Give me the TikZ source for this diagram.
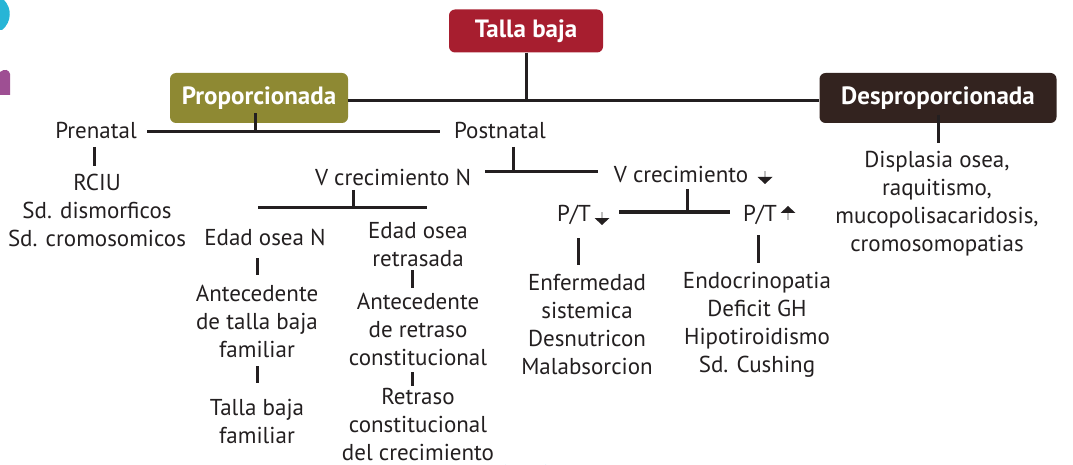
\documentclass[tikz,border=0pt]{standalone}
\usepackage{fontspec}
\setmainfont{PT Sans}
\usetikzlibrary{calc}
\definecolor{tallared}{HTML}{A71E2F}
\definecolor{propol}{HTML}{8E8933}
\definecolor{despbr}{HTML}{33231F}
\definecolor{txt}{HTML}{231F20}
\definecolor{blobcyan}{HTML}{27B5D6}
\definecolor{blobpurple}{HTML}{9E4F93}
\begin{document}
\begin{tikzpicture}[x=1pt,y=-1pt,
  box/.style={rounded corners=6pt, text=white, font=\fontsize{25}{28}\selectfont\bfseries, inner xsep=8pt},
  lbl/.style={font=\fontsize{23}{28}\selectfont, text=txt, align=center, inner sep=0pt},
  conn/.style={line width=3pt, draw=txt},
  dnarrow/.pic={\draw[gray!50, line width=1.2pt] (0,-5) -- (0,-13); \fill[txt] (-7.5,-7) -- (7.5,-7) -- (0,0) -- cycle;},
  uparrow/.pic={\draw[gray!50, line width=1.2pt] (0,5) -- (0,14); \fill[txt] (-7.5,7) -- (7.5,7) -- (0,0) -- cycle;}]
\useasboundingbox (0,0) rectangle (1073,465);
% edge fragments
\fill[blobcyan] (0,0) -- (4,0) .. controls (12,8) and (12,22) .. (2,30) -- (0,30) -- cycle;
\fill[blobpurple] (0,72) .. controls (5,68) and (9,70) .. (10,74) -- (10,95) -- (0,95) -- cycle;
\draw[cyan!25, line width=2pt] (505,465) arc[start angle=160, end angle=20, radius=22];

% boxes
\node[box, fill=tallared, minimum width=154pt, minimum height=43pt] (talla) at (526,31) {Talla baja};
\node[box, fill=propol, minimum width=178pt, minimum height=50pt] (prop) at (259,98) {Proporcionada};
\node[box, fill=despbr, minimum width=237pt, minimum height=50pt] (desp) at (938,98) {Desproporcionada};

% labels
\node[lbl] (pre) at (96,130) {Prenatal};
\node[lbl] (post) at (500,130) {Postnatal};
\node[lbl] (rciu) at (97,210.5) {RCIU\\Sd. dismorficos\\Sd. cromosomicos};
\node[lbl] (vcn) at (393,177) {V crecimiento N};
\node[lbl] (vcd) at (681,174) {V crecimiento};
\node[lbl] (eon) at (265,237) {Edad osea N};
\node[lbl] (eor) at (418,245) {Edad osea\\retrasada};
\node[lbl] (ant1) at (257,321) {Antecedente\\de talla baja\\familiar};
\node[lbl] (tbf) at (257,421) {Talla baja\\familiar};
\node[lbl] (ant2) at (418,329) {Antecedente\\de retraso\\constitucional};
\node[lbl] (ret) at (418,424) {Retraso\\constitucional\\del crecimiento};
\node[lbl] (ptd) at (574,215) {P/T};
\node[lbl] (ptu) at (760,215) {P/T};
\node[lbl] (enf) at (587,325) {Enfermedad\\sistemica\\Desnutricon\\Malabsorcion};
\node[lbl] (endo) at (757,325) {Endocrinopatia\\Deficit GH\\Hipotiroidismo\\Sd. Cushing};
\node[lbl] (displ) at (937,203.5) {Displasia osea,\\raquitismo,\\mucopolisacaridosis,\\cromosomopatias};

% arrows in labels
\pic at ($(vcd.center)+(84,10)$) {dnarrow};
\pic at ($(ptd.center)+(28,10)$) {dnarrow};
\pic at ($(ptu.center)+(28,-9)$) {uparrow};

% connectors
\draw[conn] ($(prop.east)+(0,3)$) -- ($(desp.west)+(0,3)$);
\draw[conn] (talla.south) -- ($(talla.south |- prop.east)+(0,3)$);
\draw[conn] ($(prop.south)+(-4,-10)$) -- ($(prop.south)+(-4,9)$);
\draw[conn] ($(pre.center)+(51,2)$) -- ($(post.center)+(-60,2)$);
\draw[conn] ($(post.center)+(13,17)$) -- ($(post.center)+(13,42)$);
\draw[conn] ($(vcn.center)+(92,-5)$) -- ($(vcd.center)+(-83,-2)$);
\draw[conn] ($(vcn.center)+(-40,13)$) -- ($(vcn.center)+(-40,31)$);
\draw[conn] ($(vcn.center)+(-135,31)$) -- ($(vcn.center)+(34,31)$);
\draw[conn] ($(ant1.center)+(0,-63)$) -- ($(ant1.center)+(0,-46)$);
\draw[conn] ($(ant1.center)+(0,45)$) -- ($(ant1.center)+(0,62)$);
\draw[conn] ($(ant2.center)+(-6,-59)$) -- ($(ant2.center)+(-6,-41)$);
\draw[conn] ($(ant2.center)+(-6,43)$) -- ($(ant2.center)+(-6,57)$);
\draw[conn] ($(vcd.center)+(6,15)$) -- ($(vcd.center)+(6,38)$);
\draw[conn] ($(ptd.center)+(45,-3)$) -- ($(ptu.center)+(-30,-3)$);
\draw[conn] ($(enf.center)+(-9,-87)$) -- ($(enf.center)+(-9,-60)$);
\draw[conn] ($(endo.center)+(1,-90)$) -- ($(endo.center)+(1,-62)$);
\draw[conn] ($(desp.center)+(0,17)$) -- ($(desp.center)+(0,45)$);
\draw[conn] ($(rciu.center)+(-3,-63.5)$) -- ($(rciu.center)+(-3,-44.5)$);
\end{tikzpicture}
\end{document}
